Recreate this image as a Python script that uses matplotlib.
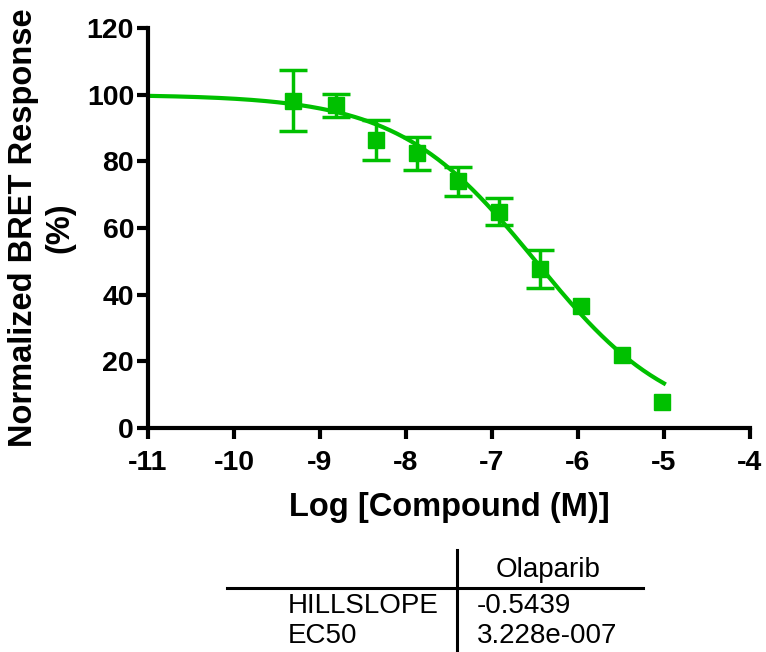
import numpy as np
import matplotlib.pyplot as plt
from matplotlib.lines import Line2D

plt.rcParams['font.family'] = ['Liberation Sans', 'DejaVu Sans']
plt.rcParams['axes.unicode_minus'] = False

# log concentration (M), mean response (%), SEM
log_conc = [-9.31, -8.81, -8.35, -7.87, -7.40, -6.92, -6.44, -5.97, -5.49, -5.02]
response = [98.2, 96.8, 86.3, 82.4, 74.0, 64.9, 47.7, 36.6, 21.9, 7.8]
sem = [9.2, 3.4, 6.0, 5.0, 4.3, 4.0, 5.7, 1.0, 0.8, 0.5]

# fitted parameters (variable slope)
top = 100.0
bottom = 0.0
hillslope = -0.5439
ec50 = 3.228e-7

green = '#00C000'

fig = plt.figure(figsize=(7.66, 6.52), dpi=100)
ax = fig.add_axes([148 / 766, 1 - 428 / 652, 602 / 766, 400 / 652])

x_fit = np.linspace(-11, -5, 300)
y_fit = bottom + (top - bottom) / (1 + 10 ** ((np.log10(ec50) - x_fit) * hillslope))
ax.plot(x_fit, y_fit, color=green, lw=3, zorder=2)

# error bars hidden when shorter than the symbol (as Prism does)
big = [i for i, e in enumerate(sem) if e > 2.5]
ax.errorbar([log_conc[i] for i in big], [response[i] for i in big],
            yerr=[sem[i] for i in big], fmt='none', ecolor=green,
            elinewidth=2.5, capsize=10, capthick=2.5, zorder=3)
ax.plot(log_conc, response, 's', color=green, ms=11, zorder=4)

ax.set_xlim(-11, -4)
ax.set_ylim(0, 120)
ax.set_xticks(range(-11, -3))
ax.set_yticks(range(0, 121, 20))
for s in ['top', 'right']:
  ax.spines[s].set_visible(False)
for s in ['left', 'bottom']:
  ax.spines[s].set_linewidth(3)
ax.tick_params(width=3, length=8, labelsize=20.5)
ax.tick_params(axis='x', pad=8)
ax.tick_params(axis='y', pad=2)
for lab in ax.get_xticklabels() + ax.get_yticklabels():
  lab.set_fontweight('bold')

ax.set_xlabel("Log [Compound (M)]", fontsize=23.5, fontweight='bold')
ax.set_ylabel("Normalized BRET Response\n(%)", fontsize=23.5, fontweight='bold',
              linespacing=1.25)
ax.xaxis.set_label_coords(0.5, -0.16)
ax.yaxis.set_label_coords(-0.12, 0.5)

# results table under the chart
W, H = 766, 652
fig.add_artist(Line2D([457 / W, 457 / W], [1 - 550 / H, 0], color='black', lw=2.2))
fig.add_artist(Line2D([227 / W, 643 / W], [1 - 588 / H, 1 - 588 / H], color='black', lw=2.2))
fs = 20
fig.text(548 / W, 1 - 577 / H, "Olaparib", fontsize=fs, ha='center', va='baseline')
fig.text(288 / W, 1 - 613 / H, "HILLSLOPE", fontsize=fs, ha='left', va='baseline')
fig.text(288 / W, 1 - 643 / H, "EC50", fontsize=fs, ha='left', va='baseline')
fig.text(477 / W, 1 - 613 / H, f"{hillslope:.4f}", fontsize=fs, ha='left', va='baseline')
fig.text(477 / W, 1 - 643 / H, "3.228e-007", fontsize=fs, ha='left', va='baseline')

fig.savefig("out.png", dpi=100)
